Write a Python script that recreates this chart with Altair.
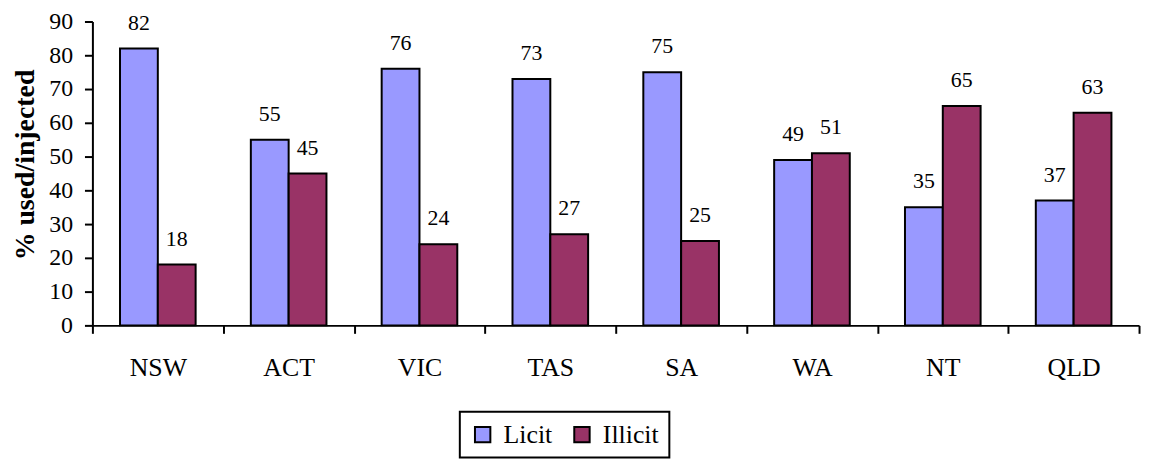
import altair as alt
import pandas as pd

states = ["NSW", "ACT", "VIC", "TAS", "SA", "WA", "NT", "QLD"]
licit = [82, 55, 76, 73, 75, 49, 35, 37]
illicit = [18, 45, 24, 27, 25, 51, 65, 63]
series = ["Licit", "Illicit"]
colors = ["#9999FF", "#993366"]
y_ticks = [0, 10, 20, 30, 40, 50, 60, 70, 80, 90]

rows = []
for s, l, i in zip(states, licit, illicit):
    rows.append({"state": s, "type": "Licit", "value": l})
    rows.append({"state": s, "type": "Illicit", "value": i})
df = pd.DataFrame(rows)

FONT = "Liberation Serif"

x = alt.X(
    "state:N", sort=states,
    scale=alt.Scale(paddingInner=0, paddingOuter=0),
    axis=alt.Axis(title=None, labelAngle=0, tickBand="extent", tickSize=8,
                  labelPadding=21, labelFontSize=26, labelFont=FONT,
                  labelColor="black", domainColor="black", tickColor="black",
                  domainWidth=2, tickWidth=2),
)
xoff = alt.XOffset("type:N", sort=series,
                   scale=alt.Scale(paddingInner=0, paddingOuter=0.73))
y = alt.Y(
    "value:Q", scale=alt.Scale(domain=[0, 90]),
    axis=alt.Axis(values=y_ticks, title="% used/injected", titleFont=FONT,
                  titleFontSize=28, titleFontWeight="bold", titleColor="black",
                  titleX=-67, titleY=144, titleBaseline="middle",
                  labelFont=FONT, labelFontSize=24,
                  labelColor="black", tickSize=8, labelPadding=12, grid=False,
                  domainColor="black", tickColor="black", domainWidth=2,
                  tickWidth=2),
)

bars = alt.Chart(df).mark_bar(stroke="black", strokeWidth=2).encode(
    x=x, xOffset=xoff, y=y,
    color=alt.Color("type:N", sort=series,
                    scale=alt.Scale(domain=series, range=colors),
                    legend=alt.Legend(orient="none", legendX=370, legendY=393,
                                      direction="horizontal", title=None,
                                      symbolType="square", symbolSize=240,
                                      symbolStrokeColor="black",
                                      symbolStrokeWidth=2, labelFont=FONT,
                                      labelFontSize=26, labelColor="black",
                                      padding=10, columnPadding=16,
                                      labelOffset=8, strokeColor="black")),
)

labels = alt.Chart(df).mark_text(baseline="alphabetic", dy=-19, fontSize=22,
                                 font=FONT, color="black").encode(
    x=x, xOffset=xoff, y=y, text=alt.Text("value:Q"),
)

chart = (bars + labels).properties(
    width=1054, height=306,
    autosize=alt.AutoSizeParams(type="none"),
    padding={"left": 85, "top": 12, "right": 5, "bottom": 140},
).configure_view(stroke=None).configure_legend(strokeWidth=2)

chart.save("out.html", embed_options={"renderer": "svg", "actions": False})
